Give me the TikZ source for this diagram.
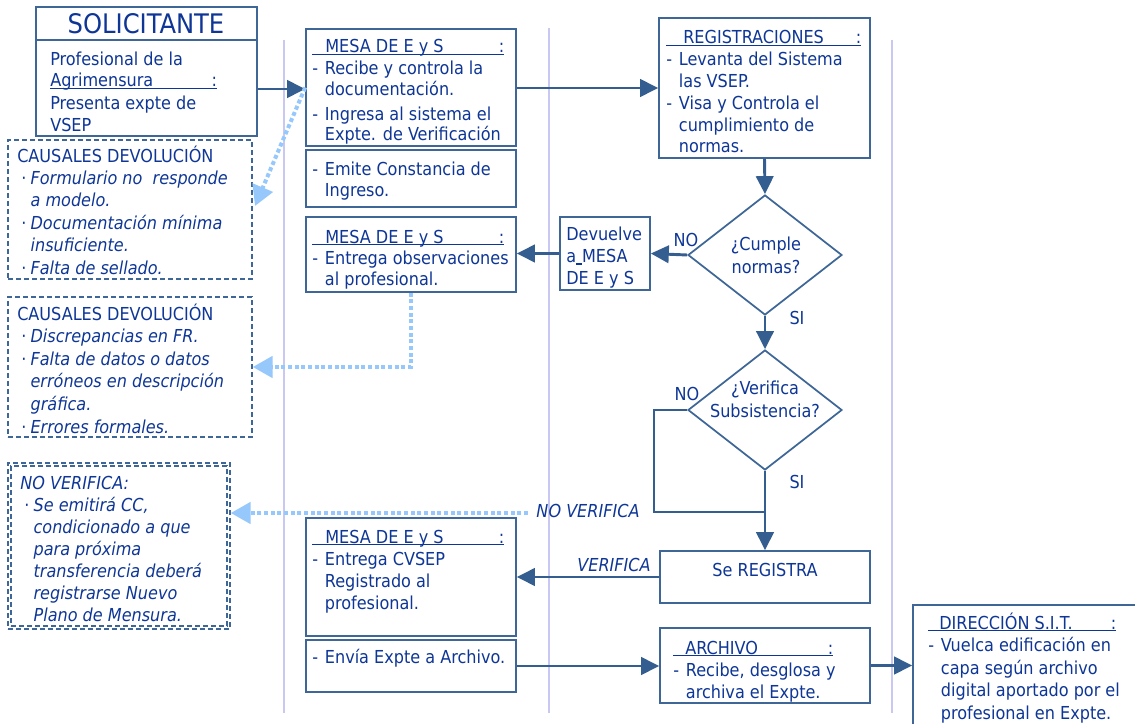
\documentclass[tikz,border=0pt]{standalone}
\usepackage{fontspec}
\setmainfont{DejaVu Sans Condensed}[ItalicFont={DejaVu Sans Condensed Oblique}]
\usetikzlibrary{arrows.meta,fit,shapes.geometric}
\definecolor{tcol}{RGB}{14,54,150}
\definecolor{bcol}{RGB}{62,102,150}
\definecolor{acol}{RGB}{52,94,144}
\definecolor{dcol}{RGB}{150,200,252}
\definecolor{lcol}{RGB}{200,200,242}
\newcommand\tlines[2]{{\fontsize{13.4}{#1}\selectfont\begin{tabular}[t]{@{}l@{}}#2\end{tabular}}}
\newcommand\hdr[3]{\rlap{\color{tcol}\rule[-1.8pt]{#1}{1.4pt}}\makebox[#1][l]{\hspace*{#2}#3\hfill:}}
\newcommand\dItem[1]{\makebox[9.5pt][l]{-}#1}
\newcommand\dCont[1]{\hspace*{9.5pt}#1}
\newcommand\bItem[1]{\hspace*{3pt}\makebox[7pt][l]{·}\textit{#1}}
\newcommand\bCont[1]{\hspace*{10pt}\textit{#1}}
\begin{document}
\begin{tikzpicture}[x=0.75pt,y=-0.75pt,
  every node/.style={text=tcol, font=\fontsize{13.4}{15}\selectfont, inner sep=0pt},
  box/.style={draw=bcol, line width=1.2pt, fill=white, inner sep=0pt},
  dbox/.style={draw=bcol, line width=1.1pt, dash pattern=on 3.5pt off 2.5pt, inner sep=0pt},
  txt/.style={anchor=base west},
  arr/.style={draw=acol, line width=2.2pt, -{Triangle[length=13.5pt,width=13pt]}},
  ln/.style={draw=acol, line width=2.2pt},
  dotarr/.style={draw=dcol, line width=3pt, dash pattern=on 3pt off 2pt, -{Triangle[length=15pt,width=16pt]}},
  lane/.style={draw=lcol, line width=1pt},
  dia/.style={draw=bcol, line width=1.3pt, diamond, fill=white, inner sep=0pt, minimum width=115.5pt, minimum height=90pt},
  it/.style={font=\fontsize{13.4}{15}\selectfont\itshape}
]
\useasboundingbox (0,0) rectangle (1135,724);
% lanes
\draw[lane] (284,40) -- (284,713);
\draw[lane] (549,28) -- (549,713);
\draw[lane] (892,40) -- (892,713);

% helper coordinates
\coordinate (y89) at (0,89);
\coordinate (y88) at (0,88);
\coordinate (solsep) at (0,40);

% SOLICITANTE
\node[box, fit={(36,7)(257,136)}] (sol) {};
\draw[draw=bcol, line width=1.2pt] (sol.west |- solsep) -- (sol.east |- solsep);
\node[font=\fontsize{20.2}{24}\selectfont] (solh) at (146,24) {SOLICITANTE};
\node[txt] (solb) at (50,65) {\tlines{16.5pt}{Profesional de la\\\hdr{125pt}{0pt}{Agrimensura}\\Presenta expte de\\VSEP}};

% MESA 1
\node[box, fit={(306,29)(516,146)}] (m1) {};
\node[txt] (m1t) at (312,53) {\tlines{15pt}{\hdr{144pt}{9.75pt}{MESA DE E y S}\\[1.5pt]\dItem{Recibe y controla la}\\\dCont{documentación.}\\[3.75pt]\dItem{Ingresa al sistema el}\\\dCont{Expte. de Verificación}}};
\node[box, fit={(306,150)(516,207)}] (m1b) {};
\node[txt] (m1bt) at (312,175) {\tlines{15.75pt}{\dItem{Emite Constancia de}\\\dCont{Ingreso.}}};

% REGISTRACIONES
\node[box, fit={(659,18)(870,158)}] (reg) {};
\node[txt] (regt) at (666,44) {\tlines{16.35pt}{\hdr{146.25pt}{12.75pt}{REGISTRACIONES}\\\dItem{Levanta del Sistema}\\\dCont{las VSEP.}\\\dItem{Visa y Controla el}\\\dCont{cumplimiento de}\\\dCont{normas.}}};

% Devuelve
\node[box, fit={(560,217)(650,290)}] (dev) {};
\node[txt] (devt) at (566,240) {\tlines{16.5pt}{Devuelve\\a\rule[-2pt]{4.5pt}{1.3pt}MESA\\DE E y S}};

% MESA 2
\node[box, fit={(306,217)(516,292)}] (m2) {};
\node[txt] (m2t) at (312,243) {\tlines{15.75pt}{\hdr{144pt}{9.75pt}{MESA DE E y S}\\\dItem{Entrega observaciones}\\\dCont{al profesional.}}};

% diamonds
\node[dia] (d1) at (765,255) {};
\node[align=center, font=\fontsize{13.4}{17.25}\selectfont] (d1t) at (766,255) {¿Cumple\\normas?};
\node[dia] (d2) at (765,410) {};
\node[align=center, font=\fontsize{13.4}{17.25}\selectfont] (d2t) at (765,399) {¿Verifica\\Subsistencia?};

\node (no1) at (686,240) {NO};
\node (si1) at (797,318) {SI};
\node (no2) at (687,394) {NO};
\node (si2) at (797,482) {SI};

% CAUSALES 1
\node[dbox, fit={(8,140)(252,279)}] (c1) {};
\node[txt] (c1t) at (17,162) {\tlines{16.8pt}{CAUSALES DEVOLUCIÓN\\\bItem{Formulario no\ \ responde}\\\bCont{a modelo.}\\\bItem{Documentación mínima}\\\bCont{insuficiente.}\\\bItem{Falta de sellado.}}};

% CAUSALES 2
\node[dbox, fit={(8,297)(252,437)}] (c2) {};
\node[txt] (c2t) at (17,320) {\tlines{16.95pt}{CAUSALES DEVOLUCIÓN\\\bItem{Discrepancias en FR.}\\\bItem{Falta de datos o datos}\\\bCont{erróneos en descripción}\\\bCont{gráfica.}\\\bItem{Errores formales.}}};

% NO VERIFICA box
\node[dbox, fit={(8,463)(230,629)}] (nv) {};
\node[dbox, fit={(11,466)(227,626)}] (nvi) {};
\node[txt] (nvt) at (20,489) {\tlines{16.5pt}{\textit{NO VERIFICA:}\\\bItem{Se emitirá CC,}\\\bCont{condicionado a que}\\\bCont{para próxima}\\\bCont{transferencia deberá}\\\bCont{registrarse Nuevo}\\\bCont{Plano de Mensura.}}};

% Se REGISTRA
\node[box, fit={(660,551)(870,603)}] (reg2) {};
\node (reg2t) at (765,570) {Se REGISTRA};

% MESA 3
\node[box, fit={(306,518)(516,636)}] (m3) {};
\node[txt] (m3t) at (312,543) {\tlines{16.5pt}{\hdr{144pt}{9.75pt}{MESA DE E y S}\\\dItem{Entrega CVSEP}\\\dCont{Registrado al}\\\dCont{profesional.}}};
\node[box, fit={(306,640)(516,692)}] (m3b) {};
\node[txt] (m3bt) at (312,663) {\tlines{16.5pt}{\dItem{Envía Expte a Archivo.}}};

% ARCHIVO
\node[box, fit={(660,628)(870,703)}] (arch) {};
\node[txt] (archt) at (673,654) {\tlines{16.5pt}{\hdr{120pt}{9pt}{ARCHIVO}\\\dItem{Recibe, desglosa y}\\\dCont{archiva el Expte.}}};

% DIRECCION
\node[box, fit={(913,605)(1140,740)}] (dir) {};
\node[txt] (dirt) at (928,629) {\tlines{16.9pt}{\hdr{141pt}{8.25pt}{DIRECCIÓN S.I.T.}\\\dItem{Vuelca edificación en}\\\dCont{capa según archivo}\\\dCont{digital aportado por el}\\\dCont{profesional en Expte.}}};

% labels
\node[it] (verl) at (614,565) {VERIFICA};
\node[it] (nvl) at (588,511) {NO VERIFICA};

% connectors
\draw[arr] (sol.east |- y89) -- (m1.west |- y89);
\draw[arr] (m1.east |- y88) -- (reg.west |- y88);
\draw[arr] (reg.south) -- (d1.north);
\draw[arr] (d1.west) -- (dev.east);
\draw[arr] (dev.west) -- (m2.east |- dev.west);
\draw[arr] (d1.south) -- (d2.north);
\draw[arr] (d2.south) -- (reg2.north);
\coordinate (nb1) at (654,410);
\coordinate (nb2) at (654,512);
\coordinate (nj) at (765,512);
\draw[ln] (d2.west) -- (nb1) -- (nb2) -- (nj);
\draw[arr] (reg2.west) -- (m3.east |- reg2.west);
\draw[arr] (m3b.east) -- (arch.west |- m3b.east);
\draw[arr] (arch.east) -- (dir.west |- arch.east);

% dotted
\coordinate (dt1e) at (255,206);
\draw[dotarr] (m1.west) -- (dt1e);
\draw[dotarr] (m2.south) |- (c2.east);
\coordinate (dt3s) at (528,513);
\draw[dotarr] (dt3s) -- (nv.east |- dt3s);
\end{tikzpicture}
\end{document}
